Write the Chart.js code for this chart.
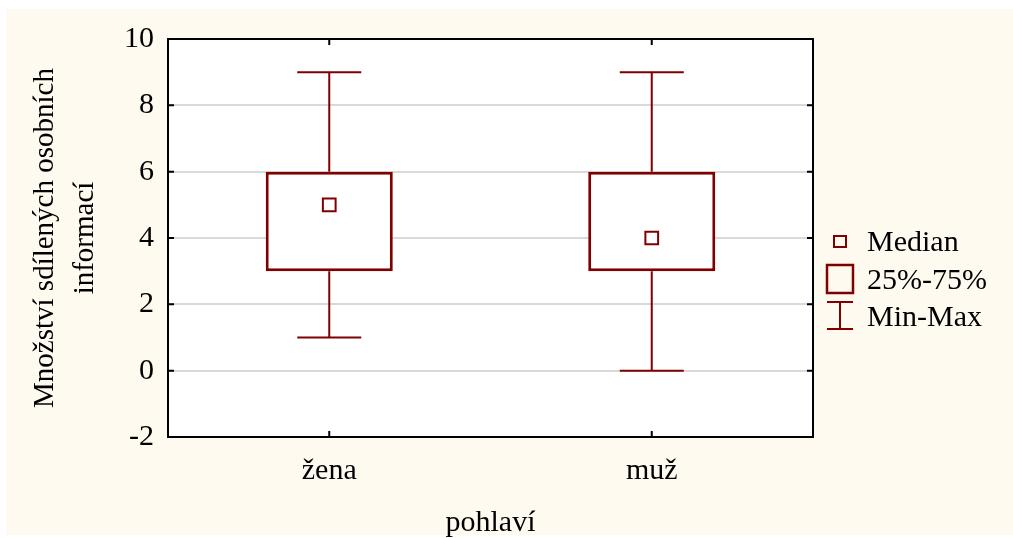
<!DOCTYPE html>
<html>
<head>
<meta charset="utf-8">
<script src="https://cdn.jsdelivr.net/npm/chart.js@4.4.1/dist/chart.umd.min.js"></script>
<style>
  html, body { margin: 0; padding: 0; background: #ffffff; }
  canvas { display: block; }
</style>
</head>
<body>
<canvas id="box-chart" width="1013" height="538"></canvas>
<script>
// data
var categories = ['žena', 'muž'];
var minValues = [1, 0];
var q1Values = [3, 3];
var medianValues = [5, 4];
var q3Values = [6, 6];
var maxValues = [9, 9];
var legendLabels = ['Median', '25%-75%', 'Min-Max'];

var dark = '#800000';
var serif = '"Liberation Serif", "Times New Roman", serif';

var boxData = categories.map(function (c, i) { return [q1Values[i], q3Values[i]]; });

// background, frame, inward ticks, whiskers and legend
var statPlugin = {
    id: 'statPlugin',
    beforeDraw: function (chart) {
        var ctx = chart.ctx;
        var a = chart.chartArea;
        ctx.save();
        ctx.fillStyle = '#ffffff';
        ctx.fillRect(0, 0, chart.width, chart.height);
        ctx.fillStyle = '#fffaf0';
        ctx.fillRect(6, 9, chart.width - 6, chart.height - 12);
        ctx.fillStyle = '#ffffff';
        ctx.fillRect(a.left, a.top, a.right - a.left, a.bottom - a.top);
        ctx.restore();
    },
    beforeDatasetsDraw: function (chart) {
        var ctx = chart.ctx;
        var x = chart.scales.x, y = chart.scales.y;
        ctx.save();
        ctx.strokeStyle = dark;
        ctx.lineWidth = 2;
        categories.forEach(function (c, i) {
            var cx = x.getPixelForValue(i);
            var half = 32;
            ctx.beginPath();
            ctx.moveTo(cx, y.getPixelForValue(minValues[i]));
            ctx.lineTo(cx, y.getPixelForValue(q1Values[i]));
            ctx.moveTo(cx, y.getPixelForValue(q3Values[i]));
            ctx.lineTo(cx, y.getPixelForValue(maxValues[i]));
            ctx.moveTo(cx - half, y.getPixelForValue(minValues[i]));
            ctx.lineTo(cx + half, y.getPixelForValue(minValues[i]));
            ctx.moveTo(cx - half, y.getPixelForValue(maxValues[i]));
            ctx.lineTo(cx + half, y.getPixelForValue(maxValues[i]));
            ctx.stroke();
        });
        ctx.restore();
    },
    afterDraw: function (chart) {
        var ctx = chart.ctx;
        var a = chart.chartArea;
        var x = chart.scales.x, y = chart.scales.y;
        ctx.save();
        ctx.strokeStyle = '#000000';
        ctx.lineWidth = 2;
        ctx.strokeRect(a.left, a.top, a.right - a.left, a.bottom - a.top);
        ctx.beginPath();
        y.ticks.forEach(function (t) {
            var py = y.getPixelForValue(t.value);
            ctx.moveTo(a.left, py); ctx.lineTo(a.left + 6, py);
            ctx.moveTo(a.right, py); ctx.lineTo(a.right - 6, py);
        });
        categories.forEach(function (c, i) {
            var px = x.getPixelForValue(i);
            ctx.moveTo(px, a.bottom); ctx.lineTo(px, a.bottom - 6);
            ctx.moveTo(px, a.top); ctx.lineTo(px, a.top + 6);
        });
        ctx.stroke();

        // legend
        var lx = 840;
        ctx.strokeStyle = dark;
        ctx.lineWidth = 2;
        ctx.strokeRect(lx - 6, 236, 12, 11);
        ctx.lineWidth = 2.5;
        ctx.strokeRect(lx - 13, 265, 26, 28);
        ctx.lineWidth = 2;
        ctx.beginPath();
        ctx.moveTo(lx - 13, 302); ctx.lineTo(lx + 13, 302);
        ctx.moveTo(lx, 302); ctx.lineTo(lx, 329);
        ctx.moveTo(lx - 13, 329); ctx.lineTo(lx + 13, 329);
        ctx.stroke();
        ctx.fillStyle = '#000000';
        ctx.font = '30px ' + serif;
        ctx.textBaseline = 'middle';
        ctx.textAlign = 'left';
        ctx.fillText(legendLabels[0], 867, 243);
        ctx.fillText(legendLabels[1], 867, 281);
        ctx.fillText(legendLabels[2], 867, 318);
        ctx.restore();
    }
};

var config = {
    data: {
        labels: categories,
        datasets: [{
            type: 'bar',
            label: '25%-75%',
            data: boxData,
            backgroundColor: '#ffffff',
            borderColor: dark,
            borderWidth: 3,
            borderSkipped: false,
            categoryPercentage: 1,
            barPercentage: 0.394,
            order: 2
        }, {
            type: 'line',
            label: 'Median',
            data: medianValues,
            showLine: false,
            pointStyle: 'rect',
            pointRadius: 9,
            pointBorderWidth: 2,
            pointBorderColor: dark,
            pointBackgroundColor: '#ffffff',
            order: 1
        }]
    },
    options: {
        responsive: false,
        animation: false,
        devicePixelRatio: 1,
        layout: {
            padding: { top: 39, right: 200, left: 0, bottom: 0 }
        },
        plugins: {
            legend: { display: false },
            tooltip: { enabled: false }
        },
        scales: {
            x: {
                grid: { display: false, drawTicks: false },
                border: { display: false },
                ticks: {
                    color: '#000000',
                    padding: 16,
                    font: { family: serif, size: 30 }
                },
                title: {
                    display: true,
                    text: 'pohlaví',
                    color: '#000000',
                    padding: { top: 0, bottom: -3 },
                    font: { family: serif, size: 30 }
                },
                afterFit: function (scale) { scale.height = 101; }
            },
            y: {
                min: -2,
                max: 10,
                grid: { color: '#d9d9d9', lineWidth: 2, drawTicks: false },
                border: { display: false },
                ticks: {
                    stepSize: 2,
                    color: '#000000',
                    padding: 14,
                    font: { family: serif, size: 30 }
                },
                title: {
                    display: true,
                    text: ['Množství sdílených osobních', 'informací'],
                    color: '#000000',
                    padding: { top: 25, bottom: 0 },
                    font: { family: serif, size: 29, lineHeight: 1.38 }
                },
                afterFit: function (scale) { scale.width = 168; }
            }
        }
    },
    plugins: [statPlugin]
};

var chart = new Chart(document.getElementById('box-chart'), config);
</script>
</body>
</html>
